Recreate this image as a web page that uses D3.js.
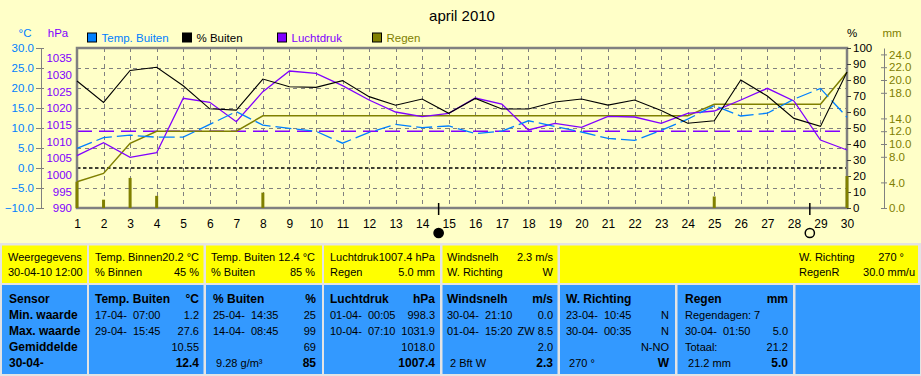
<!DOCTYPE html>
<html><head><meta charset="utf-8">
<script src="https://cdn.jsdelivr.net/npm/d3@7"></script>
<style>
body{margin:0;background:#ffffc8;}
svg{display:block;font-family:"Liberation Sans",Arial,sans-serif;}
</style>
</head><body>
<svg id="c" width="921" height="376"></svg>
<script>
// ---------- DATA ----------
const title = "april 2010";
const days = [1,2,3,4,5,6,7,8,9,10,11,12,13,14,15,16,17,18,19,20,21,22,23,24,25,26,27,28,29,30];
const tempBuiten = [4.9,7.6,8.2,7.7,7.7,10.9,14.1,10.7,9.9,9.2,6.2,8.9,10.9,10.1,10.5,8.6,9.2,11.8,10.4,9.0,7.4,6.9,9.4,12.2,15.6,13.0,13.7,17.2,19.9,12.7];
const humBuiten = [79.4,66,86,88,76.4,62,61.2,80.6,75.8,75.4,79.6,69.6,64.2,68.1,59.2,68.5,61.9,61.9,66.3,68.1,64.3,67.5,61,53,54.5,80,70,56,51,85];
const luchtdruk = [1005.7,1009.6,1005.2,1006.6,1022.9,1021.7,1015.9,1024.9,1031.1,1030.4,1026.7,1022.4,1018.8,1017.4,1018.4,1023.0,1021.2,1013.4,1015.4,1014.2,1017.5,1017.3,1015.4,1018.4,1019.1,1022.4,1025.9,1022.1,1010.4,1007.4];
const regenDag = [4.1,1.3,4.7,1.9,0,0,0,2.4,0,0,0,0,0,0,0,0,0,0,0,0,0,0,0,0,1.8,0,0,0,0,5.0];
const regenCum = [4.1,5.4,10.1,12.0,12.0,12.0,12.0,14.4,14.4,14.4,14.4,14.4,14.4,14.4,14.4,14.4,14.4,14.4,14.4,14.4,14.4,14.4,14.4,14.4,16.2,16.2,16.2,16.2,16.2,21.2];
const freezeLine = 0;       // °C
const standardPressure = 1013; // hPa
const newMoonDay = 14.62, fullMoonDay = 28.6;

const tempTicks = [30,25,20,15,10,5,0,-5,-10];
const pressTicks = [1035,1030,1025,1020,1015,1010,1005,1000,995,990];
const humTicks = [100,90,80,70,60,50,40,30,20,10,0];
const rainTicks = [24,22,20,18,14,12,10,8,4,0];

const legend = [
  {name:"Temp. Buiten", color:"#0080ff"},
  {name:"% Buiten", color:"#000000"},
  {name:"Luchtdruk", color:"#8000ff"},
  {name:"Regen", color:"#808000"}
];

const topPanel = [
  [["Weergegevens",""],["30-04-10 12:00",""]],
  [["Temp. Binnen","20.2 °C"],["% Binnen","45 %"]],
  [["Temp. Buiten","12.4 °C"],["% Buiten","85 %"]],
  [["Luchtdruk","1007.4 hPa"],["Regen","5.0 mm"]],
  [["Windsnelh","2.3 m/s"],["W. Richting","W"]],
  [["W. Richting","270 °"],["RegenR","30.0 mm/u"]]
];
const bottomPanel = [
  [["Sensor",""],["Min. waarde",""],["Max. waarde",""],["Gemiddelde",""],["30-04-",""]],
  [["Temp. Buiten","°C"],["17-04-  07:00","1.2"],["29-04-  15:45","27.6"],["","10.55"],["","12.4"]],
  [["% Buiten","%"],["25-04-  14:35","25"],["14-04-  08:45","99"],["","69"],[" 9.28 g/m³","85"]],
  [["Luchtdruk","hPa"],["01-04-  00:05","998.3"],["10-04-  07:10","1031.9"],["","1018.0"],["","1007.4"]],
  [["Windsnelh","m/s"],["30-04-  21:10","0.0"],["01-04-  15:20","ZW 8.5"],["","2.0"],[" 2 Bft W","2.3"]],
  [["W. Richting",""],["23-04-  10:45","N"],["30-04-  00:35","N"],["","N-NO"],[" 270 °","W"]],
  [["Regen","mm"],["Regendagen: 7",""],["30-04-  01:50","5.0"],["Totaal:","21.2"],[" 21.2 mm","5.0"]],
  [["",""],["",""],["",""],["",""],["",""]]
];

// ---------- LAYOUT ----------
const C = {blue:"#0080ff", purple:"#8000ff", olive:"#808000", gray:"#808080"};
const FONT = "Liberation Sans,Arial,sans-serif";
const svg = d3.select("#c");
const L=77,R=847,T=48,B=208;
const x = d3.scaleLinear().domain([1,30]).range([L,R]);
const yT = d3.scaleLinear().domain([-10,30]).range([B,T]);
const yP = d3.scaleLinear().domain([990,1038]).range([B,T]);
const yH = d3.scaleLinear().domain([0,100]).range([B,T]);
const yR = d3.scaleLinear().domain([0,25]).range([B,T]);

svg.append("rect").attr("width",921).attr("height",376).attr("fill","#ffffc8");

// title
svg.append("text").attr("x",462).attr("y",21).attr("text-anchor","middle")
  .attr("font-size",15).text(title);

// units
svg.append("text").attr("x",25).attr("y",37).attr("text-anchor","middle").attr("font-size",11.5).attr("fill",C.blue).text("°C");
svg.append("text").attr("x",58).attr("y",37).attr("text-anchor","middle").attr("font-size",11.5).attr("fill",C.purple).text("hPa");
svg.append("text").attr("x",852).attr("y",37).attr("text-anchor","middle").attr("font-size",11.5).attr("fill","#000").text("%");
svg.append("text").attr("x",892).attr("y",37).attr("text-anchor","middle").attr("font-size",11.5).attr("fill",C.olive).text("mm");

// legend
const legX = [87.5,182.5,277.5,372.5];
const lg = svg.append("g").selectAll("g").data(legend).join("g")
  .attr("transform",(d,i)=>`translate(${legX[i]},33)`);
lg.append("rect").attr("width",9).attr("height",9).attr("fill",d=>d.color).attr("stroke","#000");
lg.append("text").attr("x",14).attr("y",9).attr("font-size",11.5).attr("fill",d=>d.color).text(d=>d.name);

// grid
const grid = svg.append("g").attr("stroke",C.gray).attr("stroke-width",1).attr("stroke-dasharray","4,4");
grid.selectAll(".v").data(days.slice(1,-1)).join("line")
  .attr("x1",d=>Math.round(x(d))+0.5).attr("x2",d=>Math.round(x(d))+0.5).attr("y1",T).attr("y2",B);
grid.selectAll(".h").data(tempTicks.slice(1,-1).filter(d=>d!==freezeLine)).join("line")
  .attr("x1",L).attr("x2",R).attr("y1",d=>Math.round(yT(d))+0.5).attr("y2",d=>Math.round(yT(d))+0.5);

// reference lines
svg.append("line").attr("x1",L).attr("x2",R).attr("y1",yT(freezeLine)).attr("y2",yT(freezeLine))
  .attr("stroke","#000").attr("stroke-width",1.5).attr("stroke-dasharray","3.5,2.5");
svg.append("line").attr("x1",L).attr("x2",R).attr("y1",yP(standardPressure)).attr("y2",yP(standardPressure))
  .attr("stroke",C.purple).attr("stroke-width",1.5).attr("stroke-dasharray","15,7");

// plot border
svg.append("rect").attr("x",L).attr("y",T).attr("width",R-L).attr("height",B-T)
  .attr("fill","none").attr("stroke",C.gray).attr("stroke-width",2.5);

// axes
const axT = svg.append("g").attr("transform",`translate(41,0)`)
  .call(d3.axisLeft(yT).tickValues(tempTicks).tickSizeInner(5).tickSizeOuter(0).tickPadding(2).tickFormat(d3.format(".1f")));
axT.select(".domain").attr("stroke",C.gray);
axT.selectAll(".tick line").attr("stroke",C.gray).attr("x1",3);
axT.selectAll("text").attr("fill",C.blue).attr("font-size",11.5).attr("font-family",FONT);

const axP = svg.append("g").attr("transform",`translate(${L},0)`)
  .call(d3.axisLeft(yP).tickValues(pressTicks).tickSize(0).tickPadding(5).tickFormat(d3.format("d")));
axP.select(".domain").remove();
axP.selectAll("text").attr("fill",C.purple).attr("font-size",11.5).attr("font-family",FONT);

const axH = svg.append("g").attr("transform",`translate(${R},0)`)
  .call(d3.axisRight(yH).tickValues(humTicks).tickSize(4).tickPadding(2).tickFormat(d3.format("d")));
axH.select(".domain").remove();
axH.selectAll(".tick line").attr("stroke","#404040");
axH.selectAll("text").attr("fill","#000").attr("font-size",11.5).attr("font-family",FONT);

const axR = svg.append("g").attr("transform",`translate(884,0)`)
  .call(d3.axisRight(yR).tickValues(rainTicks).tickSizeInner(3).tickSizeOuter(0).tickPadding(2).tickFormat(d3.format(".1f")));
axR.select(".domain").attr("stroke",C.gray);
axR.selectAll(".tick line").attr("stroke",C.gray).attr("x1",-3);
axR.selectAll("text").attr("fill",C.olive).attr("font-size",11.5).attr("font-family",FONT);

const axX = svg.append("g").attr("transform",`translate(0,${B})`)
  .call(d3.axisBottom(x).tickValues(days).tickSize(0).tickPadding(11).tickFormat(d3.format("d")));
axX.select(".domain").remove();
axX.selectAll("text").attr("fill","#000").attr("font-size",12).attr("font-family",FONT);

// series
const line = (ys, sc) => d3.line().x((d,i)=>x(days[i])).y(d=>sc(d))(ys);
svg.append("path").attr("d",line(regenCum,yR)).attr("fill","none").attr("stroke",C.olive).attr("stroke-width",1.5);
svg.append("path").attr("d",line(luchtdruk,yP)).attr("fill","none").attr("stroke",C.purple).attr("stroke-width",1.3);
svg.append("path").attr("d",line(tempBuiten,yT)).attr("fill","none").attr("stroke",C.blue).attr("stroke-width",1.3).attr("stroke-dasharray","16,5");
svg.append("path").attr("d",line(humBuiten,yH)).attr("fill","none").attr("stroke","#000").attr("stroke-width",1.1);

// rain bars
svg.append("g").selectAll("rect").data(regenDag.map((v,i)=>({d:days[i],v})).filter(o=>o.v>0)).join("rect")
  .attr("x",o=>x(o.d)-1.5).attr("width",3).attr("y",o=>yR(o.v)).attr("height",o=>B-yR(o.v)).attr("fill",C.olive);

// moon phases
[[newMoonDay,"#000"],[fullMoonDay,"none"]].forEach(([d,f])=>{
  svg.append("line").attr("x1",x(d)).attr("x2",x(d)).attr("y1",203).attr("y2",215).attr("stroke","#000").attr("stroke-width",1.5);
  svg.append("circle").attr("cx",x(d)).attr("cy",233).attr("r",4.6).attr("fill",f).attr("stroke","#000").attr("stroke-width",1.5);
});

// ---------- PANELS ----------
svg.append("rect").attr("x",0).attr("y",243).attr("width",921).attr("height",133).attr("fill","#e4e4e4");
const topBoxes = [[2,87],[89,203.5],[206,322],[324,440],[442.5,557.5],[560,918]];
const topText = [[8,0],[95,199],[211,315],[330,435],[447,553],[799,904]];
const bottomBoxes = [[2,87],[89,203.5],[206,322],[324,440],[442.5,557.5],[560,675],[677.5,793],[795.5,920]];
const bottomText = [[9,0],[95,199],[213,316],[330,435],[447,553],[566,669],[685,788],[800,915]];

topPanel.forEach((rows,i)=>{
  svg.append("rect").attr("x",topBoxes[i][0]).attr("y",245.5).attr("width",topBoxes[i][1]-topBoxes[i][0]).attr("height",37.5).attr("fill","#ffff00");
  rows.forEach((r,j)=>{
    const by = 261 + j*15;
    svg.append("text").attr("x",topText[i][0]).attr("y",by).attr("font-size",11).text(r[0]);
    let rx = topText[i][1];
    if(i===5 && j===1) rx = 915;
    svg.append("text").attr("x",rx).attr("y",by).attr("font-size",11).attr("text-anchor","end").text(r[1]);
  });
});
const rowBase = [303,319,335,351,367];
bottomPanel.forEach((rows,i)=>{
  svg.append("rect").attr("x",bottomBoxes[i][0]).attr("y",285).attr("width",bottomBoxes[i][1]-bottomBoxes[i][0]).attr("height",89).attr("fill","#3399ff");
  rows.forEach((r,j)=>{
    const boldL = (i===0) || j===0;
    const boldR = j===0 || j===4;
    svg.append("text").attr("x",bottomText[i][0]).attr("y",rowBase[j]).attr("font-size",boldL?12:11)
      .attr("font-weight",boldL?"bold":"normal").style("white-space","pre").text(r[0]);
    svg.append("text").attr("x",bottomText[i][1]).attr("y",rowBase[j]).attr("text-anchor","end").attr("font-size",boldR?12:11)
      .attr("font-weight",boldR?"bold":"normal").text(r[1]);
  });
});
</script>
</body></html>
